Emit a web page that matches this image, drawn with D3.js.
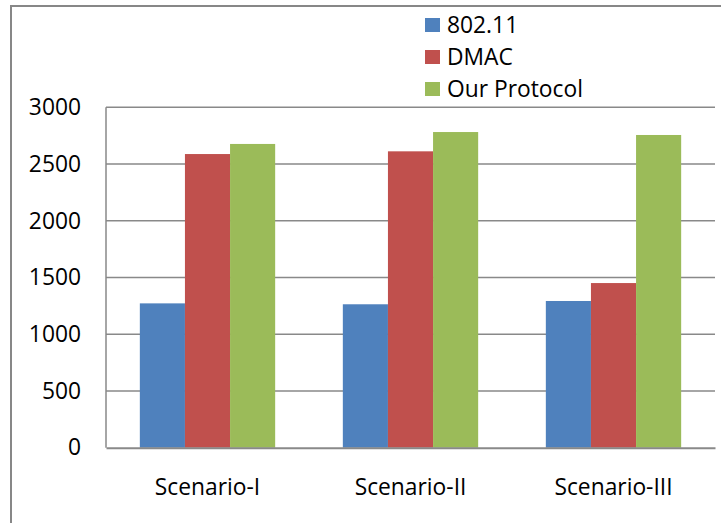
<!DOCTYPE html>
<html>
<head>
<meta charset="utf-8">
<script src="https://cdn.jsdelivr.net/npm/d3@7"></script>
<style>
  html, body { margin: 0; padding: 0; background: #fff; }
  svg { display: block; }
  text { font-family: "Open Sans", Lato, sans-serif; fill: #000; }
</style>
</head>
<body>
<svg id="chart" width="721" height="523"></svg>
<script>
const categories = ["Scenario-I", "Scenario-II", "Scenario-III"];
const seriesNames = ["802.11", "DMAC", "Our Protocol"];
const series80211 = [1272, 1264, 1293];
const seriesDMAC = [2588, 2612, 1451];
const seriesOurs = [2677, 2782, 2756];
const yTicks = [0, 500, 1000, 1500, 2000, 2500, 3000];
const colors = ["#4F81BD", "#C0504D", "#9BBB59"];

const seriesValues = [series80211, seriesDMAC, seriesOurs];
const FONT = "'Open Sans', Lato, sans-serif";
const FS = "22.8px";

const svg = d3.select("#chart");
const plotL = 106, plotR = 715, plotT = 107.3, plotB = 447.7;

// outer frame (cut by the window on right/bottom)
svg.append("rect")
  .attr("x", 11).attr("y", 6)
  .attr("width", 800).attr("height", 600)
  .attr("fill", "none").attr("stroke", "#878787").attr("stroke-width", 2);

const x0 = d3.scaleBand().domain(categories).range([plotL, plotR]).padding(0);
const x1 = d3.scaleBand().domain(seriesNames).range([0, x0.bandwidth()])
  .paddingInner(0).paddingOuter(0.75);
const y = d3.scaleLinear().domain([0, 3000]).range([plotB, plotT]);

// gridlines
svg.append("g").selectAll("line").data(yTicks.filter(d => d > 0)).join("line")
  .attr("x1", plotL).attr("x2", plotR)
  .attr("y1", d => y(d)).attr("y2", d => y(d))
  .attr("stroke", "#898989").attr("stroke-width", 1.5);

// y axis labels
const yAxis = d3.axisLeft(y).tickValues(yTicks).tickFormat(d3.format("d"))
  .tickSize(0).tickPadding(25);
const gy = svg.append("g").attr("transform", `translate(${plotL},0)`).call(yAxis);
gy.select(".domain").remove();
gy.selectAll("text").style("font-size", FS).attr("fill", "#000")
  .attr("font-family", FONT);

// bars
const groups = svg.append("g").selectAll("g").data(categories).join("g")
  .attr("transform", d => `translate(${x0(d)},0)`);
groups.selectAll("rect")
  .data((c, ci) => seriesNames.map((s, si) => ({ s, si, v: seriesValues[si][ci] })))
  .join("rect")
  .attr("x", d => x1(d.s))
  .attr("width", x1.bandwidth())
  .attr("y", d => y(d.v))
  .attr("height", d => y(0) - y(d.v))
  .attr("fill", d => colors[d.si]);

// axis lines
svg.append("line").attr("x1", plotL).attr("x2", plotL).attr("y1", plotT).attr("y2", plotB)
  .attr("stroke", "#898989").attr("stroke-width", 1.5);
const xAxis = d3.axisBottom(x0).tickSize(0).tickPadding(31);
const gx = svg.append("g").attr("transform", `translate(0,${plotB})`).call(xAxis);
gx.select(".domain").attr("stroke", "#898989").attr("stroke-width", 2);
gx.selectAll("text").style("font-size", FS).attr("fill", "#000")
  .attr("font-family", FONT);

// legend
const legend = svg.append("g").attr("transform", "translate(425,0)");
const legY = d3.scalePoint().domain(seriesNames).range([25, 89]);
legend.selectAll("rect").data(seriesNames).join("rect")
  .attr("x", 0).attr("y", d => legY(d) - 7)
  .attr("width", 15).attr("height", 14)
  .attr("fill", (d, i) => colors[i]);
legend.selectAll("text").data(seriesNames).join("text")
  .attr("x", 22).attr("y", d => legY(d) + 8)
  .style("font-size", FS)
  .text(d => d);
</script>
</body>
</html>
